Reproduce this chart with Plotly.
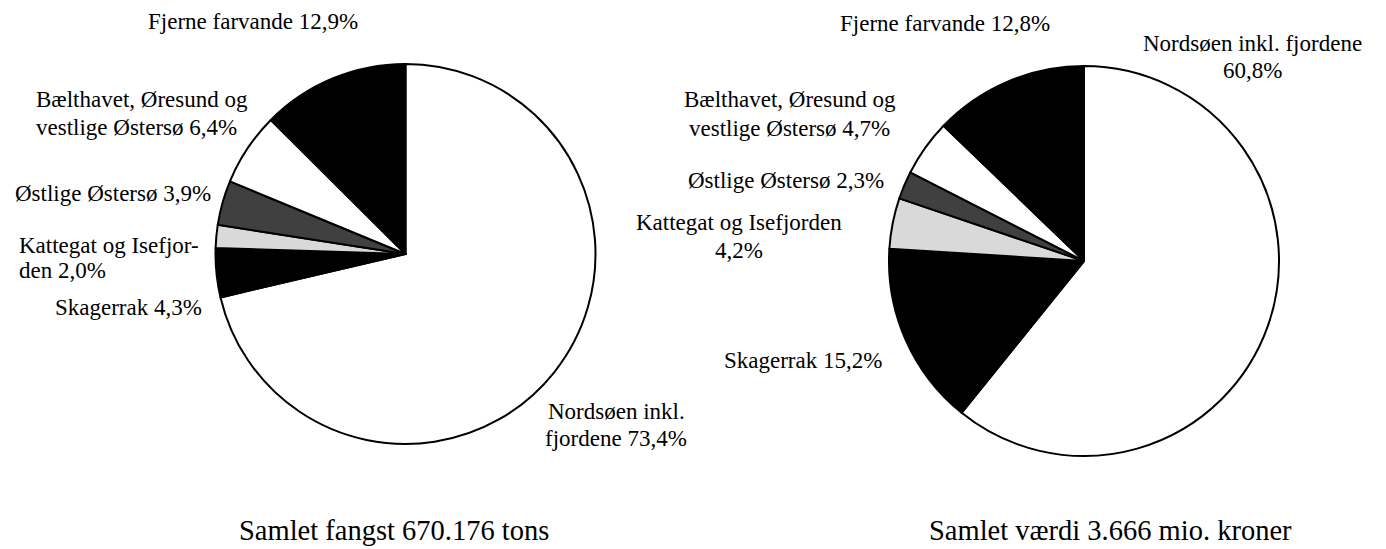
import plotly.graph_objects as go

# ---- data ----
regions = ["Nordsøen inkl. fjordene", "Skagerrak", "Kattegat og Isefjorden",
           "Østlige Østersø", "Bælthavet, Øresund og vestlige Østersø", "Fjerne farvande"]
catch_pct = [73.4, 4.3, 2.0, 3.9, 6.4, 12.9]   # Samlet fangst 670.176 tons
value_pct = [60.8, 15.2, 4.2, 2.3, 4.7, 12.8]  # Samlet værdi 3.666 mio. kroner
slice_colors = ["#ffffff", "#000000", "#d9d9d9", "#404040", "#ffffff", "#000000"]

# label text templates ({} = percentage), with the line breaks of the original
catch_label_tpl = ["Nordsøen inkl.<br>fjordene {}", "Skagerrak {}", "Kattegat og Isefjor-<br>den {}",
                   "Østlige Østersø {}", "Bælthavet, Øresund og<br>vestlige Østersø {}", "Fjerne farvande {}"]
value_label_tpl = ["Nordsøen inkl. fjordene<br>{}", "Skagerrak {}", "Kattegat og Isefjorden<br>{}",
                   "Østlige Østersø {}", "Bælthavet, Øresund og<br>vestlige Østersø {}", "Fjerne farvande {}"]
titles = ["Samlet fangst 670.176 tons", "Samlet værdi 3.666 mio. kroner"]

# page pixels; the browser's default 8px body margin shifts the figure
OFF = 8
W, H = 1386 - OFF, 549 - OFF
FONT = "Liberation Serif"
LBL = 23
TTL = 28.5


def fmt(v):
    return f"{v:.1f}".replace(".", ",") + "%"


def px(x):
    return (x - OFF) / W


def py(y):
    return 1 - (y - OFF) / H


fig = go.Figure()

pies = [
    dict(vals=catch_pct, cx=405.5, cy=254, r=190),
    dict(vals=value_pct, cx=1084, cy=261, r=195),
]
for p in pies:
    fig.add_trace(go.Pie(
        values=p["vals"], labels=regions, sort=False, direction="clockwise", rotation=0,
        marker=dict(colors=slice_colors, line=dict(color="black", width=2)),
        textinfo="none", hoverinfo="label+value", showlegend=False,
        domain=dict(x=[px(p["cx"] - p["r"]), px(p["cx"] + p["r"])],
                    y=[py(p["cy"] + p["r"]), py(p["cy"] - p["r"])]),
    ))

# label placement in page pixels: (x, [line y's], xanchor)
catch_pos = [(616, [411, 438], "center"), (204, [307], "right"), (17, [245, 270], "left"),
             (213, [193], "right"), (34, [100, 127], "left"), (253, [22], "center")]
value_pos = [(1252, [43, 70], "center"), (884, [360], "right"), (739, [223, 250], "center"),
             (886, [180], "right"), (790, [100, 128], "center"), (945, [23], "center")]

annotations = []
for tpl, vals, pos in [(catch_label_tpl, catch_pct, catch_pos), (value_label_tpl, value_pct, value_pos)]:
    for t, v, (x, ys, xa) in zip(tpl, vals, pos):
        lines = t.format(fmt(v)).split("<br>")
        for line, y in zip(lines, ys):
            annotations.append(dict(
                text=line, x=px(x), y=py(y), xref="paper", yref="paper",
                xanchor=xa, yanchor="middle", showarrow=False,
                font=dict(family=FONT, size=LBL, color="black")))

for t, x in zip(titles, [394, 1110]):
    annotations.append(dict(text=t, x=px(x), y=py(530), xref="paper", yref="paper",
                            xanchor="center", yanchor="middle", showarrow=False,
                            font=dict(family=FONT, size=TTL, color="black")))

fig.update_layout(
    width=W, height=H, margin=dict(l=0, r=0, t=0, b=0),
    paper_bgcolor="white", plot_bgcolor="white",
    annotations=annotations,
)

fig.write_html("out.html")
